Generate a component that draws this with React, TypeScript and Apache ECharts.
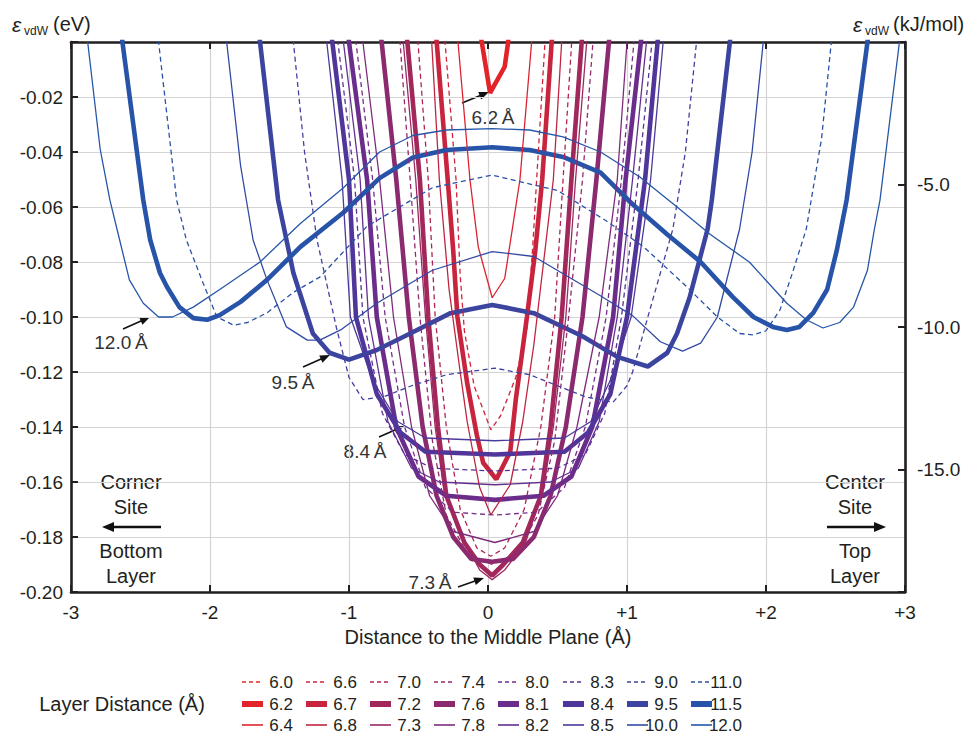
import React, { useEffect, useRef } from "react";
import * as echarts from "echarts";

const FONT = "'Liberation Sans', Arial, Helvetica, sans-serif";
const INK = "#231f20";

// Layer distances (legend order, column-major: 3 per column)
const layerNames = [
  "6.0", "6.2", "6.4", "6.6", "6.7", "6.8", "7.0", "7.2", "7.3", "7.4", "7.6", "7.8",
  "8.0", "8.1", "8.2", "8.3", "8.4", "8.5", "9.0", "9.5", "10.0", "11.0", "11.5", "12.0",
];
const layerStyles = [
  "dash", "thick", "thin", "dash", "thick", "thin", "dash", "thick", "thin", "dash", "thick", "thin",
  "dash", "thick", "thin", "dash", "thick", "thin", "dash", "thick", "thin", "dash", "thick", "thin",
];
const layerColors = [
  "#e8262b", "#e3232a", "#dc2230", "#d0233a", "#c8243d", "#c02441", "#b02454", "#a2285b",
  "#9c2862", "#922a70", "#8b2a6f", "#7d2b7b", "#732d88", "#6b2d8b", "#632e90", "#583094",
  "#50359a", "#4a389b", "#4140a0", "#3b45a0", "#3149a4", "#2a51a7", "#2754a8", "#2656a8",
];

const kjPerEv = 96.485;

// Curves: [distance to middle plane (Å), energy (eV)]
const e60 = [[-0.2, 0.06], [0, 0.03], [0.2, 0.06]];
const e62 = [[-0.06, 0.005], [-0.045, 0], [0.015, -0.0185], [0.12, -0.009], [0.145, 0], [0.15, 0.005]];
const e64 = [[-0.235, 0.01], [-0.216, 0], [-0.13, -0.05], [-0.07, -0.0745], [0.03, -0.093], [0.12, -0.086], [0.23, -0.05], [0.314, 0], [0.33, 0.01]];
const e66 = [[-0.33, 0.01], [-0.309, 0], [-0.23, -0.05], [-0.2, -0.085], [-0.17, -0.105], [-0.1, -0.125], [0.02, -0.141], [0.09, -0.136], [0.2, -0.122], [0.28, -0.104], [0.32, -0.076], [0.35, -0.05], [0.41, 0], [0.43, 0.01]];
const e67 = [[-0.39, 0.01], [-0.369, 0], [-0.29, -0.05], [-0.25, -0.076], [-0.22, -0.1], [-0.15, -0.124], [-0.08, -0.143], [-0.035, -0.153], [0.06, -0.159], [0.16, -0.149], [0.2, -0.13], [0.28, -0.1], [0.34, -0.076], [0.39, -0.05], [0.458, 0], [0.48, 0.01]];
const e68 = [[-0.42, 0.01], [-0.405, 0], [-0.35, -0.05], [-0.28, -0.09], [-0.2, -0.12], [-0.15, -0.138], [-0.06, -0.162], [0.02, -0.172], [0.16, -0.161], [0.25, -0.138], [0.33, -0.11], [0.4, -0.08], [0.47, -0.05], [0.53, 0], [0.545, 0.01]];
const e70 = [[-0.52, 0.01], [-0.504, 0], [-0.43, -0.05], [-0.38, -0.1], [-0.3, -0.14], [-0.2, -0.17], [-0.08, -0.184], [0.02, -0.187], [0.12, -0.184], [0.26, -0.17], [0.38, -0.14], [0.48, -0.1], [0.54, -0.05], [0.602, 0], [0.615, 0.01]];
const e72 = [[-0.6, 0.01], [-0.58, 0], [-0.49, -0.05], [-0.43, -0.1], [-0.36, -0.14], [-0.3, -0.165], [-0.17, -0.182], [-0.06, -0.19], [0.03, -0.194], [0.11, -0.19], [0.25, -0.182], [0.38, -0.165], [0.45, -0.14], [0.53, -0.1], [0.6, -0.05], [0.674, 0], [0.69, 0.01]];
const e73 = [[-0.63, 0.01], [-0.61, 0], [-0.52, -0.05], [-0.45, -0.1], [-0.38, -0.14], [-0.32, -0.162], [-0.165, -0.182], [-0.06, -0.192], [0.03, -0.1955], [0.12, -0.192], [0.27, -0.182], [0.4, -0.162], [0.47, -0.14], [0.56, -0.1], [0.63, -0.05], [0.71, 0], [0.725, 0.01]];
const e74 = [[-0.65, 0.01], [-0.633, 0], [-0.56, -0.05], [-0.49, -0.1], [-0.4, -0.145], [-0.3, -0.172], [-0.15, -0.186], [0.03, -0.19], [0.2, -0.186], [0.36, -0.172], [0.48, -0.145], [0.58, -0.1], [0.68, -0.05], [0.755, 0], [0.77, 0.01]];
const e76 = [[-0.79, 0.01], [-0.765, 0], [-0.66, -0.05], [-0.57, -0.1], [-0.47, -0.14], [-0.37, -0.165], [-0.25, -0.18], [-0.12, -0.188], [0.03, -0.189], [0.18, -0.188], [0.33, -0.18], [0.45, -0.165], [0.56, -0.14], [0.68, -0.1], [0.78, -0.05], [0.87, 0], [0.89, 0.01]];
const e78 = [[-0.92, 0.01], [-0.9, 0], [-0.78, -0.05], [-0.68, -0.1], [-0.55, -0.14], [-0.42, -0.165], [-0.25, -0.178], [0.05, -0.182], [0.33, -0.178], [0.5, -0.165], [0.64, -0.14], [0.8, -0.1], [0.93, -0.05], [1.0, 0], [1.02, 0.01]];
const e80 = [[-0.97, 0.01], [-0.95, 0], [-0.83, -0.05], [-0.74, -0.1], [-0.6, -0.14], [-0.45, -0.162], [-0.25, -0.171], [0.05, -0.172], [0.35, -0.171], [0.55, -0.162], [0.7, -0.14], [0.85, -0.1], [0.96, -0.05], [1.05, 0], [1.07, 0.01]];
const e81 = [[-1.02, 0.01], [-1.0, 0], [-0.87, -0.05], [-0.8, -0.1], [-0.66, -0.14], [-0.5, -0.158], [-0.3, -0.165], [0.05, -0.1665], [0.4, -0.165], [0.6, -0.158], [0.75, -0.14], [0.9, -0.1], [0.99, -0.05], [1.1, 0], [1.12, 0.01]];
const e82 = [[-1.06, 0.01], [-1.04, 0], [-0.92, -0.05], [-0.86, -0.1], [-0.72, -0.138], [-0.55, -0.155], [-0.35, -0.16], [0.05, -0.161], [0.45, -0.16], [0.65, -0.155], [0.8, -0.138], [0.93, -0.1], [1.04, -0.05], [1.14, 0], [1.16, 0.01]];
const e83 = [[-1.1, 0.01], [-1.08, 0], [-0.96, -0.05], [-0.9, -0.1], [-0.76, -0.135], [-0.6, -0.15], [-0.4, -0.155], [0.05, -0.156], [0.5, -0.155], [0.7, -0.15], [0.84, -0.135], [0.96, -0.1], [1.08, -0.05], [1.18, 0], [1.2, 0.01]];
const e84 = [[-1.14, 0.01], [-1.12, 0], [-1.0, -0.05], [-0.95, -0.1], [-0.8, -0.128], [-0.63, -0.142], [-0.45, -0.149], [0.05, -0.15], [0.55, -0.149], [0.72, -0.142], [0.88, -0.128], [1.0, -0.1], [1.13, -0.05], [1.22, 0], [1.24, 0.01]];
const e85 = [[-1.18, 0.01], [-1.16, 0], [-1.05, -0.05], [-0.99, -0.1], [-0.83, -0.123], [-0.65, -0.138], [-0.45, -0.144], [0.05, -0.145], [0.55, -0.144], [0.74, -0.138], [0.88, -0.123], [1.03, -0.1], [1.17, -0.05], [1.26, 0], [1.28, 0.01]];
const e90 = [[-1.43, 0.01], [-1.4, 0], [-1.32, -0.04], [-1.23, -0.072], [-1.09, -0.104], [-1.0, -0.122], [-0.9, -0.13], [-0.75, -0.129], [-0.55, -0.125], [-0.3, -0.121], [0.05, -0.1186], [0.3, -0.121], [0.5, -0.125], [0.7, -0.129], [0.9, -0.131], [1.0, -0.125], [1.04, -0.12], [1.15, -0.1], [1.33, -0.068], [1.42, -0.04], [1.5, 0], [1.52, 0.01]];
const e95 = [[-1.66, 0.01], [-1.64, 0], [-1.51, -0.0575], [-1.4, -0.084], [-1.26, -0.106], [-1.14, -0.113], [-1.0, -0.1155], [-0.8, -0.112], [-0.56, -0.106], [-0.27, -0.0986], [0.03, -0.0956], [0.33, -0.0986], [0.68, -0.107], [0.93, -0.1145], [1.15, -0.118], [1.29, -0.113], [1.36, -0.106], [1.45, -0.093], [1.58, -0.068], [1.61, -0.0575], [1.74, 0], [1.76, 0.01]];
const e100 = [[-1.9, 0.01], [-1.88, 0], [-1.78, -0.045], [-1.69, -0.072], [-1.59, -0.0865], [-1.45, -0.1036], [-1.3, -0.1084], [-1.21, -0.1084], [-1.06, -0.1047], [-0.8, -0.095], [-0.4, -0.083], [0.03, -0.0762], [0.33, -0.078], [0.8, -0.092], [1.04, -0.0995], [1.24, -0.109], [1.4, -0.1124], [1.53, -0.1095], [1.65, -0.1], [1.81, -0.068], [1.9, -0.04], [1.98, 0], [2.0, 0.01]];
const e110 = [[-2.39, 0.01], [-2.37, 0], [-2.24, -0.0575], [-2.17, -0.072], [-2.05, -0.0876], [-1.95, -0.1], [-1.83, -0.103], [-1.73, -0.102], [-1.59, -0.0985], [-1.4, -0.091], [-1.21, -0.0855], [-0.87, -0.067], [-0.4, -0.053], [0.03, -0.0484], [0.5, -0.054], [0.85, -0.065], [1.12, -0.0745], [1.43, -0.089], [1.65, -0.1], [1.81, -0.106], [1.91, -0.1065], [2.0, -0.105], [2.1, -0.0975], [2.19, -0.084], [2.29, -0.068], [2.4, -0.035], [2.47, 0], [2.49, 0.01]];
const e115 = [[-2.65, 0.01], [-2.63, 0], [-2.48, -0.0575], [-2.43, -0.072], [-2.36, -0.084], [-2.31, -0.089], [-2.22, -0.0964], [-2.12, -0.1004], [-2.02, -0.101], [-1.93, -0.0993], [-1.78, -0.0945], [-1.59, -0.0865], [-1.35, -0.0745], [-1.04, -0.062], [-0.78, -0.0495], [-0.54, -0.042], [-0.3, -0.0393], [0.03, -0.0383], [0.3, -0.0393], [0.54, -0.0418], [0.81, -0.0475], [1.04, -0.059], [1.29, -0.07], [1.53, -0.08], [1.76, -0.0927], [1.91, -0.1], [2.05, -0.1036], [2.15, -0.1047], [2.24, -0.1036], [2.34, -0.0985], [2.44, -0.09], [2.51, -0.0756], [2.58, -0.0575], [2.73, 0], [2.75, 0.01]];
const e120 = [[-2.9, 0.01], [-2.88, 0], [-2.79, -0.039], [-2.72, -0.0575], [-2.65, -0.072], [-2.58, -0.0865], [-2.48, -0.095], [-2.37, -0.1], [-2.27, -0.1], [-2.12, -0.0964], [-1.93, -0.09], [-1.64, -0.08], [-1.35, -0.066], [-1.04, -0.053], [-0.78, -0.04], [-0.54, -0.034], [-0.3, -0.032], [0.03, -0.0315], [0.3, -0.032], [0.54, -0.0345], [0.81, -0.04], [1.09, -0.049], [1.36, -0.06], [1.6, -0.07], [1.88, -0.08], [2.15, -0.095], [2.29, -0.101], [2.41, -0.104], [2.53, -0.102], [2.63, -0.0964], [2.73, -0.083], [2.78, -0.068], [2.82, -0.0575], [2.96, 0], [2.98, 0.01]];

const curves = [
  e60, e62, e64, e66, e67, e68, e70, e72, e73, e74, e76, e78,
  e80, e81, e82, e83, e84, e85, e90, e95, e100, e110, e115, e120,
];

const legendCols = [242, 306, 370, 434, 498, 563, 627, 691];
const legendRows = [682, 704, 725];

function txt(text: string, x: number, y: number, size: number, align = "center", italic = false, fill = INK) {
  return {
    type: "text",
    x,
    y,
    silent: true,
    style: {
      text,
      fill,
      font: `${italic ? "italic " : ""}${size}px ${FONT}`,
      textAlign: align,
      textVerticalAlign: "middle",
    },
  };
}

function arrow(x1: number, y1: number, x2: number, y2: number, lw = 1.6, hl = 10, hw = 4) {
  const dx = x2 - x1;
  const dy = y2 - y1;
  const L = Math.hypot(dx, dy);
  const ux = dx / L;
  const uy = dy / L;
  const bx = x2 - ux * hl;
  const by = y2 - uy * hl;
  const px = -uy;
  const py = ux;
  return [
    { type: "line", silent: true, shape: { x1, y1, x2: bx + ux * 2, y2: by + uy * 2 }, style: { stroke: "#111", lineWidth: lw } },
    {
      type: "polygon",
      silent: true,
      shape: { points: [[x2, y2], [bx + px * hw, by + py * hw], [bx - px * hw, by - py * hw]] },
      style: { fill: "#111" },
    },
  ];
}

function legendItems() {
  const out: any[] = [];
  layerNames.forEach((name, i) => {
    const c = Math.floor(i / 3);
    const r = i % 3;
    const x0 = legendCols[c];
    const y = legendRows[r];
    const st = layerStyles[i];
    out.push({
      type: "line",
      silent: true,
      shape: { x1: x0, y1: y, x2: x0 + 21, y2: y },
      style: {
        stroke: layerColors[i],
        lineWidth: st === "thick" ? 6 : 1.6,
        lineDash: st === "dash" ? [4, 3] : null,
      },
    });
    out.push(txt(name, x0 + 51, y, 17, "right"));
  });
  return out;
}

export default function App() {
  const ref = useRef<HTMLDivElement>(null);

  useEffect(() => {
    if (!ref.current) return;
    const chart = echarts.init(ref.current, undefined, { renderer: "svg" });

    const series = layerNames.map((name, i) => {
      const st = layerStyles[i];
      return {
        type: "line",
        name,
        data: curves[i],
        xAxisIndex: 0,
        yAxisIndex: 0,
        symbol: "none",
        showSymbol: false,
        clip: true,
        silent: true,
        z: st === "thick" ? 2 : 3,
        emphasis: { disabled: true },
        itemStyle: { color: layerColors[i] },
        lineStyle: {
          color: layerColors[i],
          width: st === "thick" ? 4.6 : 1.3,
          type: st === "dash" ? [5, 3.5] : "solid",
        },
      };
    });

    const axisLine = { show: true, onZero: false, lineStyle: { color: INK, width: 2.6 } };
    const axisTick = { show: true, inside: true, length: 7, lineStyle: { color: INK, width: 2 } };
    const labelStyle = { color: INK, fontSize: 19, fontFamily: FONT };

    chart.setOption({
      animation: false,
      backgroundColor: "#ffffff",
      grid: { left: 71, right: 65, top: 42, bottom: 142, outerBoundsMode: "none", containLabel: false },
      xAxis: [
        {
          type: "value",
          min: -3,
          max: 3,
          interval: 1,
          position: "bottom",
          axisLine,
          axisTick,
          axisLabel: {
            ...labelStyle,
            margin: 11,
            showMinLabel: true,
            showMaxLabel: true,
            formatter: (v: number) => (v > 0 ? "+" + v : String(v)),
          },
          splitLine: { show: true, lineStyle: { color: "#d4d4d4", width: 1.2 } },
          name: "Distance to the Middle Plane (Å)",
          nameLocation: "middle",
          nameGap: 34,
          nameTextStyle: { color: INK, fontSize: 20, fontFamily: FONT },
        },
        {
          type: "value",
          min: -3,
          max: 3,
          interval: 1,
          position: "top",
          axisLine,
          axisTick,
          axisLabel: { show: false },
          splitLine: { show: false },
        },
      ],
      yAxis: [
        {
          type: "value",
          min: -0.2,
          max: 0,
          interval: 0.02,
          position: "left",
          axisLine,
          axisTick,
          axisLabel: {
            ...labelStyle,
            margin: 8,
            showMinLabel: true,
            formatter: (v: number) => (Math.abs(v) < 1e-9 ? "" : v.toFixed(2)),
          },
          splitLine: { show: true, lineStyle: { color: "#d4d4d4", width: 1.2 } },
        },
        {
          type: "value",
          min: -0.2 * kjPerEv,
          max: 0,
          splitNumber: 4,
          position: "right",
          axisLine,
          axisTick,
          axisLabel: {
            ...labelStyle,
            margin: 12,
            formatter: (v: number) => {
              const r = Math.round(v);
              if (Math.abs(v - r) > 1e-6 || r === 0 || r % 5 !== 0) return "";
              return v.toFixed(1);
            },
          },
          splitLine: { show: false },
        },
      ],
      graphic: [
        // axis titles
        txt("ε", 12, 24, 21, "left", true),
        txt("vdW", 24, 31, 12, "left"),
        txt("(eV)", 53, 24, 20, "left"),
        txt("ε", 853, 24, 21, "left", true),
        txt("vdW", 865, 31, 12, "left"),
        txt("(kJ/mol)", 893, 24, 20, "left"),
        // curve annotations
        txt("6.2\u2009Å", 493, 117, 19, "center", false, "#333"),
        ...arrow(462, 103, 489, 92),
        txt("12.0\u2009Å", 121, 342, 19, "center", false, "#333"),
        ...arrow(123, 329, 150, 317),
        txt("9.5\u2009Å", 293, 382, 19, "center", false, "#333"),
        ...arrow(303, 367, 330, 355),
        txt("8.4\u2009Å", 365, 451, 19, "center", false, "#333"),
        ...arrow(379, 437, 404, 426),
        txt("7.3\u2009Å", 430, 582, 19, "center", false, "#333"),
        ...arrow(458, 587, 484, 578),
        // side notes
        txt("Corner", 131, 482, 20),
        txt("Site", 131, 507, 20),
        ...arrow(161, 527, 102, 527, 2.4, 12, 5),
        txt("Bottom", 131, 551, 20),
        txt("Layer", 131, 576, 20),
        txt("Center", 855, 482, 20),
        txt("Site", 855, 507, 20),
        ...arrow(827, 527, 886, 527, 2.4, 12, 5),
        txt("Top", 855, 551, 20),
        txt("Layer", 855, 576, 20),
        // legend
        txt("Layer Distance (Å)", 122, 704, 20, "center"),
        ...legendItems(),
      ],
      series,
    });

    return () => chart.dispose();
  }, []);

  return (
    <div
      ref={ref}
      style={{ position: "fixed", left: 0, top: 0, width: 970, height: 734, background: "#fff" }}
    />
  );
}
